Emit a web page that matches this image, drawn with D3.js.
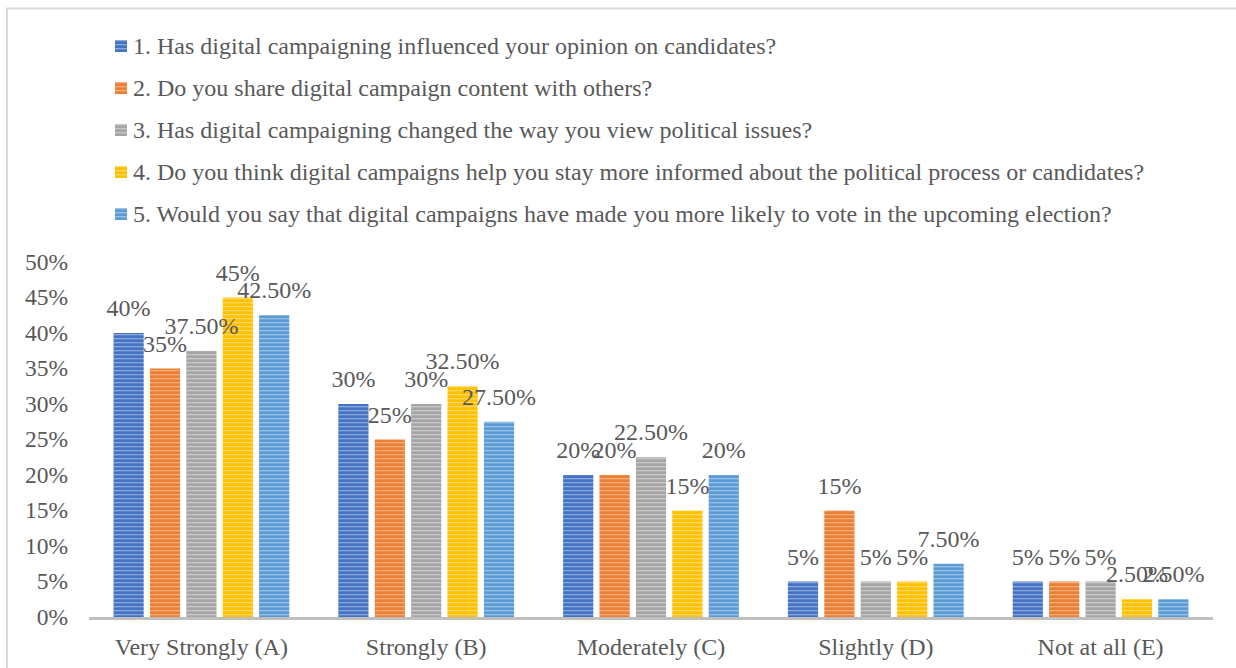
<!DOCTYPE html>
<html>
<head>
<meta charset="utf-8">
<script src="https://cdn.jsdelivr.net/npm/d3@7"></script>
<style>
  html, body { margin: 0; padding: 0; background: #fff; }
  svg { display: block; }
</style>
</head>
<body>
<svg id="chart" width="1236" height="668" font-family="'Liberation Serif', 'Times New Roman', Times, serif"></svg>
<script>
// Survey response categories (x axis)
const categories = ["Very Strongly (A)", "Strongly (B)", "Moderately (C)", "Slightly (D)", "Not at all (E)"];

// Questions (legend entries)
const questions = [
  "1. Has digital campaigning influenced your opinion on candidates?",
  "2. Do you share digital campaign content with others?",
  "3. Has digital campaigning changed the way you view political issues?",
  "4. Do you think digital campaigns help you stay more informed about the political process or candidates?",
  "5. Would you say that digital campaigns have made you more likely to vote in the upcoming election?"
];

// Percentage of respondents per question, in category order
const q1 = [40, 30, 20, 5, 5];
const q2 = [35, 25, 20, 15, 5];
const q3 = [37.5, 30, 22.5, 5, 5];
const q4 = [45, 32.5, 15, 5, 2.5];
const q5 = [42.5, 27.5, 20, 7.5, 2.5];

// Value labels as printed above each bar
const labels1 = ["40%", "30%", "20%", "5%", "5%"];
const labels2 = ["35%", "25%", "20%", "15%", "5%"];
const labels3 = ["37.50%", "30%", "22.50%", "5%", "5%"];
const labels4 = ["45%", "32.50%", "15%", "5%", "2.50%"];
const labels5 = ["42.50%", "27.50%", "20%", "7.50%", "2.50%"];

const yTicks = [0, 5, 10, 15, 20, 25, 30, 35, 40, 45, 50];

const colors = ["#4472C4", "#ED7D31", "#A5A5A5", "#FFC000", "#5B9BD5"];

const seriesValues = [q1, q2, q3, q4, q5];
const seriesLabels = [labels1, labels2, labels3, labels4, labels5];

const textColor = "#595959";
const svg = d3.select("#chart");

// Outer chart frame
svg.append("rect")
  .attr("x", 7).attr("y", 8.5)
  .attr("width", 1240).attr("height", 680)
  .attr("fill", "none")
  .attr("stroke", "#d9d9d9")
  .attr("stroke-width", 2);

// Striped fills for each series
const defs = svg.append("defs");
colors.forEach((c, i) => {
  const p = defs.append("pattern")
    .attr("id", "stripe" + i)
    .attr("patternUnits", "userSpaceOnUse")
    .attr("width", 8).attr("height", 4);
  p.append("rect").attr("width", 8).attr("height", 4).attr("fill", c);
  p.append("rect").attr("y", 2).attr("width", 8).attr("height", 1.3)
    .attr("fill", "#fff").attr("opacity", 0.38);
});

const plot = { left: 89, right: 1213, top: 262, bottom: 617 };

const x0 = d3.scaleBand()
  .domain(categories)
  .range([plot.left, plot.right])
  .paddingInner(0.218)
  .paddingOuter(0.109);

const x1 = d3.scaleBand()
  .domain(d3.range(questions.length))
  .range([0, x0.bandwidth()])
  .paddingInner(0.17);

const y = d3.scaleLinear()
  .domain([0, 50])
  .range([plot.bottom, plot.top]);

// Y axis labels
svg.append("g")
  .selectAll("text")
  .data(yTicks)
  .join("text")
  .attr("x", 68)
  .attr("y", d => y(d) + 7.5)
  .attr("text-anchor", "end")
  .attr("font-size", 23.5)
  .attr("fill", textColor)
  .text(d => d + "%");

// Bars layer
const barLayer = svg.append("g");
seriesValues.forEach((vals, si) => {
  barLayer.append("g")
    .selectAll("rect")
    .data(vals)
    .join("rect")
    .attr("x", (d, ci) => x0(categories[ci]) + x1(si))
    .attr("y", d => y(d))
    .attr("width", x1.bandwidth())
    .attr("height", d => y(0) - y(d))
    .attr("fill", "url(#stripe" + si + ")");
});

// X axis line
svg.append("line")
  .attr("x1", plot.left).attr("x2", plot.right)
  .attr("y1", plot.bottom + 1.5).attr("y2", plot.bottom + 1.5)
  .attr("stroke", "#bfbfbf")
  .attr("stroke-width", 3);

// Value labels, drawn above all bars
const labelLayer = svg.append("g");
seriesValues.forEach((vals, si) => {
  labelLayer.append("g")
    .selectAll("text")
    .data(vals)
    .join("text")
    .attr("x", (d, ci) => x0(categories[ci]) + x1(si) + x1.bandwidth() / 2)
    .attr("y", d => y(d) - 17)
    .attr("text-anchor", "middle")
    .attr("font-size", 24)
    .attr("fill", textColor)
    .text((d, ci) => seriesLabels[si][ci]);
});

// Category labels
svg.append("g")
  .selectAll("text")
  .data(categories)
  .join("text")
  .attr("x", d => x0(d) + x0.bandwidth() / 2)
  .attr("y", 655)
  .attr("text-anchor", "middle")
  .attr("font-size", 24)
  .attr("fill", textColor)
  .text(d => d);

// Legend
const legend = svg.append("g")
  .selectAll("g")
  .data(questions)
  .join("g")
  .attr("transform", (d, i) => `translate(115, ${46 + i * 42})`);

legend.append("rect")
  .attr("x", 0).attr("y", -6)
  .attr("width", 12).attr("height", 12)
  .attr("fill", (d, i) => "url(#stripe" + i + ")");

legend.append("text")
  .attr("x", 18)
  .attr("y", 8)
  .attr("font-size", 24)
  .attr("fill", textColor)
  .text(d => d);
</script>
</body>
</html>
